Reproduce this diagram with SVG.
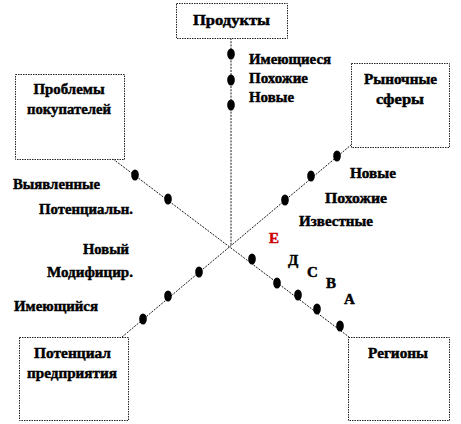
<svg xmlns="http://www.w3.org/2000/svg" width="461" height="424" viewBox="0 0 461 424">
<style>
.box{fill:#fff;stroke:#222;stroke-width:1;stroke-dasharray:1.5,1}
.t{font-family:"Liberation Serif","Times New Roman",serif;font-weight:bold;font-size:15px;fill:#000;stroke:#000;stroke-width:0.45}
.c{text-anchor:middle}
.ln{fill:none;stroke:#000;stroke-width:0.9;stroke-dasharray:2,1.2}
.dot{fill:#000}
.red{fill:#cc0000;stroke:#cc0000}
</style>
<rect width="461" height="424" fill="#fff"/>
<g id="connectors">
<line class="ln" x1="231" y1="38" x2="231" y2="246"/>
<line class="ln" x1="113" y1="159" x2="349" y2="337"/>
<line class="ln" x1="122" y1="337" x2="351" y2="145"/>
</g>
<g id="dots">
<ellipse class="dot" cx="231" cy="54" rx="3.8" ry="5.6"/>
<ellipse class="dot" cx="231" cy="80" rx="3.8" ry="5.6"/>
<ellipse class="dot" cx="231" cy="105" rx="3.8" ry="5.6"/>
<ellipse class="dot" cx="135" cy="175" rx="3.8" ry="5.6"/>
<ellipse class="dot" cx="168" cy="199" rx="3.8" ry="5.6"/>
<ellipse class="dot" cx="252" cy="259" rx="3.8" ry="5.6"/>
<ellipse class="dot" cx="277" cy="283" rx="3.8" ry="5.6"/>
<ellipse class="dot" cx="298" cy="295" rx="3.8" ry="5.6"/>
<ellipse class="dot" cx="317" cy="309" rx="3.8" ry="5.6"/>
<ellipse class="dot" cx="340" cy="326" rx="3.8" ry="5.6"/>
<ellipse class="dot" cx="143" cy="319" rx="3.8" ry="5.6"/>
<ellipse class="dot" cx="168" cy="296" rx="3.8" ry="5.6"/>
<ellipse class="dot" cx="199" cy="272" rx="3.8" ry="5.6"/>
<ellipse class="dot" cx="285" cy="200" rx="3.8" ry="5.6"/>
<ellipse class="dot" cx="311" cy="176" rx="3.8" ry="5.6"/>
<ellipse class="dot" cx="337" cy="156" rx="3.8" ry="5.6"/>
</g>
<g id="products">
<rect class="box" x="176.5" y="3.5" width="111" height="35"/>
<text class="t c" x="231.5" y="25" textLength="77" lengthAdjust="spacingAndGlyphs">Продукты</text>
</g>
<g id="problems">
<rect class="box" x="15.5" y="74.5" width="109" height="85"/>
<text class="t c" x="69" y="94" textLength="71" lengthAdjust="spacingAndGlyphs">Проблемы</text>
<text class="t c" x="69" y="114" textLength="84" lengthAdjust="spacingAndGlyphs">покупателей</text>
</g>
<g id="markets">
<rect class="box" x="351.5" y="63.5" width="98" height="84"/>
<text class="t c" x="400.5" y="84" textLength="73" lengthAdjust="spacingAndGlyphs">Рыночные</text>
<text class="t c" x="400" y="104" textLength="48" lengthAdjust="spacingAndGlyphs">сферы</text>
</g>
<g id="potential">
<rect class="box" x="19.5" y="337.5" width="109" height="83"/>
<text class="t c" x="72.5" y="358" textLength="77" lengthAdjust="spacingAndGlyphs">Потенциал</text>
<text class="t c" x="72" y="378" textLength="90" lengthAdjust="spacingAndGlyphs">предприятия</text>
</g>
<g id="regions">
<rect class="box" x="348.5" y="337.5" width="101" height="83"/>
<text class="t c" x="398" y="358" textLength="60" lengthAdjust="spacingAndGlyphs">Регионы</text>
</g>
<g id="labels">
<text class="t" x="249" y="64" textLength="82" lengthAdjust="spacingAndGlyphs">Имеющиеся</text>
<text class="t" x="249" y="83" textLength="59" lengthAdjust="spacingAndGlyphs">Похожие</text>
<text class="t" x="249" y="102" textLength="45" lengthAdjust="spacingAndGlyphs">Новые</text>
<text class="t" x="13" y="189" textLength="87" lengthAdjust="spacingAndGlyphs">Выявленные</text>
<text class="t" x="39" y="214" textLength="94" lengthAdjust="spacingAndGlyphs">Потенциальн.</text>
<text class="t" x="83" y="254" textLength="46" lengthAdjust="spacingAndGlyphs">Новый</text>
<text class="t" x="47" y="277" textLength="86" lengthAdjust="spacingAndGlyphs">Модифицир.</text>
<text class="t" x="14" y="311" textLength="84" lengthAdjust="spacingAndGlyphs">Имеющийся</text>
<text class="t" x="350" y="178" textLength="46" lengthAdjust="spacingAndGlyphs">Новые</text>
<text class="t" x="325" y="203" textLength="62" lengthAdjust="spacingAndGlyphs">Похожие</text>
<text class="t" x="299" y="226" textLength="74" lengthAdjust="spacingAndGlyphs">Известные</text>
<text class="t red" x="269" y="243">Е</text>
<text class="t" x="288" y="265">Д</text>
<text class="t" x="307" y="277">С</text>
<text class="t" x="326" y="288">В</text>
<text class="t" x="344" y="304">А</text>
</g>
</svg>
